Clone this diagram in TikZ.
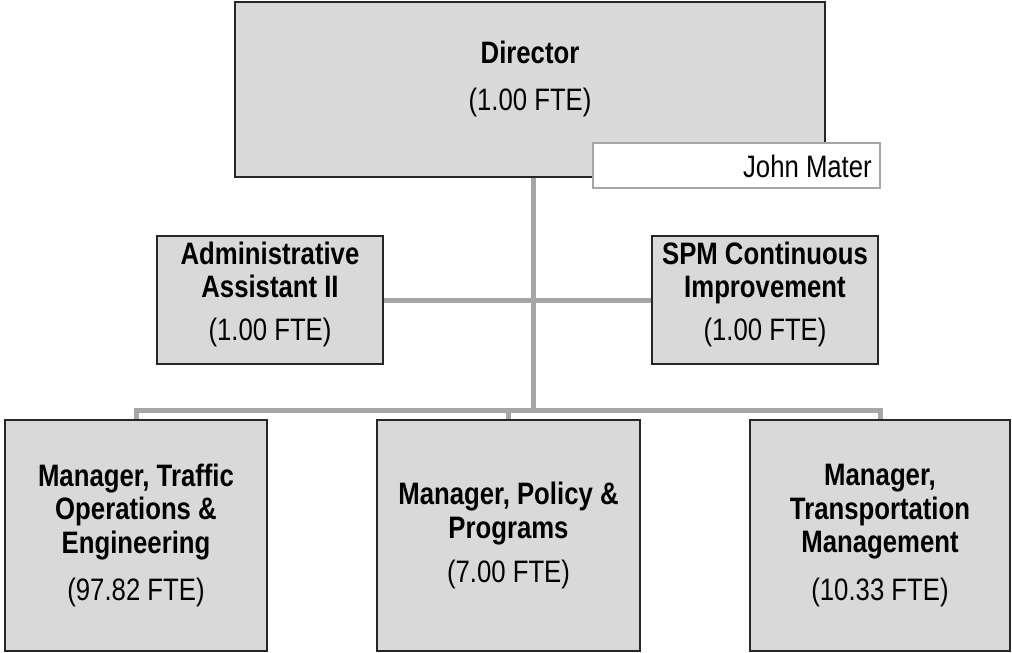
\documentclass[tikz,border=0pt]{standalone}
\usepackage{fontspec}
\setmainfont[FakeStretch=0.83]{Liberation Sans}
\definecolor{boxfill}{HTML}{D9D9D9}
\definecolor{linegray}{HTML}{A6A6A6}
\definecolor{boxline}{HTML}{262626}
\tikzset{
  orgbox/.style={draw=boxline, line width=1.3pt, fill=boxfill, inner sep=0pt, align=center,
    font=\fontsize{31}{33.5}\selectfont},
  txt/.style={align=center, inner sep=0pt, font=\fontsize{31}{33.5}\selectfont},
  namebox/.style={draw=linegray, line width=1.5pt, fill=white, inner sep=0pt},
  conn/.style={draw=linegray, line width=5pt}
}
\begin{document}
\begin{tikzpicture}[x=1pt,y=-1pt]
\useasboundingbox (0,0) rectangle (1012,653);
\coordinate (bus) at (533,410);
% boxes
\node[orgbox, minimum width=590pt, minimum height=175pt] (dir) at (530,89.5) {};
\node[txt] (dirtxt) at (530,79) {\textbf{Director}\\[14pt](1.00 FTE)};
\node[orgbox, minimum width=226pt, minimum height=128pt] (admin) at (270,300) {};
\node[txt] (admintxt) at (270,294) {\textbf{Administrative}\\\textbf{Assistant II}\\[9pt](1.00 FTE)};
\node[orgbox, minimum width=226pt, minimum height=128pt] (spm) at (765,300) {};
\node[txt] (spmtxt) at (765,294) {\textbf{SPM Continuous}\\\textbf{Improvement}\\[9pt](1.00 FTE)};
\node[orgbox, minimum width=262pt, minimum height=231pt] (left) at (136,535.5)
  {\textbf{Manager, Traffic}\\\textbf{Operations \&}\\\textbf{Engineering}\\[14pt](97.82 FTE)};
\node[orgbox, minimum width=263pt, minimum height=231pt] (mid) at (508.5,535.5)
  {\textbf{Manager, Policy \&}\\\textbf{Programs}\\[11pt](7.00 FTE)};
\node[orgbox, minimum width=260pt, minimum height=231pt] (right) at (880,535.5)
  {\textbf{Manager,}\\\textbf{Transportation}\\\textbf{Management}\\[14pt](10.33 FTE)};
% connectors
\draw[conn] (dir.south -| bus) -- (bus);
\draw[conn] (admin.east) -- (spm.west);
\draw[conn] (left.north) -- (left.north |- bus) -- (right.north |- bus) -- (right.north);
\draw[conn] (mid.north) -- (mid.north |- bus);
% name box (above the connector)
\node[namebox, minimum width=287pt, minimum height=45pt] (name) at (736.5,165.5) {};
\node[txt, anchor=east] (nametxt) at (872,166) {John Mater};
\end{tikzpicture}
\end{document}
